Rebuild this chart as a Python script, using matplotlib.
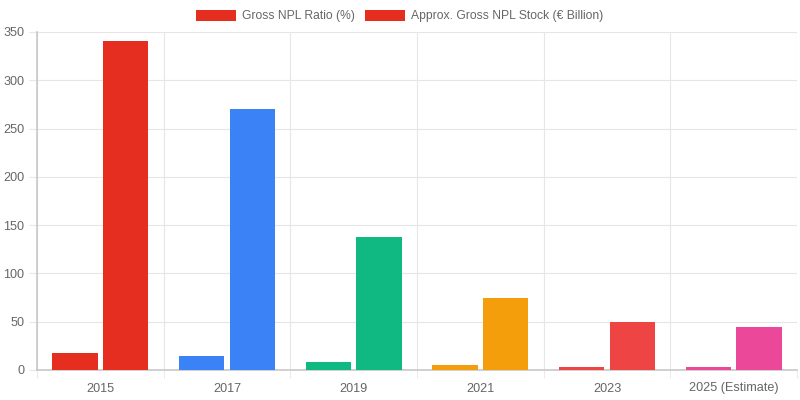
import numpy as np
import matplotlib
matplotlib.use("Agg")
import matplotlib.pyplot as plt
from matplotlib.patches import Patch

years = ["2015", "2017", "2019", "2021", "2023", "2025 (Estimate)"]
npl_ratio = [17.5, 15, 8, 5, 3.3, 2.7]
npl_stock = [341, 270, 138, 75, 50, 45]
bar_colors = ["#E62E20", "#3B82F6", "#10B981", "#F59E0B", "#EF4444", "#EC4899"]
series_names = ["Gross NPL Ratio (%)", "Approx. Gross NPL Stock (€ Billion)"]

plt.rcParams['font.family'] = ['Liberation Sans', 'DejaVu Sans']

fig = plt.figure(figsize=(8, 4), dpi=100)
ax = fig.add_axes([37 / 800, 30 / 400, 760 / 800, 338 / 400])

x = np.arange(len(years))
w = 0.36
ax.bar(x - 0.2, npl_ratio, w, color=bar_colors, zorder=3)
ax.bar(x + 0.2, npl_stock, w, color=bar_colors, zorder=3)

ax.set_xlim(-0.5, len(years) - 0.5)
ax.set_ylim(0, 350)
ax.set_yticks(np.arange(0, 351, 50))
ax.set_xticks(x)
ax.set_xticklabels(years)
ax.set_xticks(np.arange(-0.5, len(years), 1), minor=True)

grid_c = "#e6e6e6"
axis_c = "#c8c8c8"
ax.grid(axis="y", color=grid_c, lw=0.8, zorder=0)
ax.grid(axis="x", which="minor", color=grid_c, lw=0.8, zorder=0)
ax.tick_params(axis="x", which="major", length=0, pad=9, labelsize=9.1, labelcolor="#666666")
ax.tick_params(axis="x", which="minor", length=6, color=grid_c)
ax.tick_params(axis="y", length=6, color=grid_c, pad=3, labelsize=9.1, labelcolor="#666666")

for s in ["top", "right"]:
    ax.spines[s].set_visible(False)
for s in ["left", "bottom"]:
    ax.spines[s].set_color(axis_c)
    ax.spines[s].set_linewidth(1.2)

handles = [Patch(facecolor=bar_colors[0]) for _ in series_names]
fig.legend(handles, series_names, loc="center", bbox_to_anchor=(0.5, 1 - 16 / 400),
           ncol=2, frameon=False, fontsize=8.7, labelcolor="#666666",
           handlelength=3.3, handleheight=1.0, handletextpad=0.5, columnspacing=0.85)

fig.savefig("out.png", dpi=100)
